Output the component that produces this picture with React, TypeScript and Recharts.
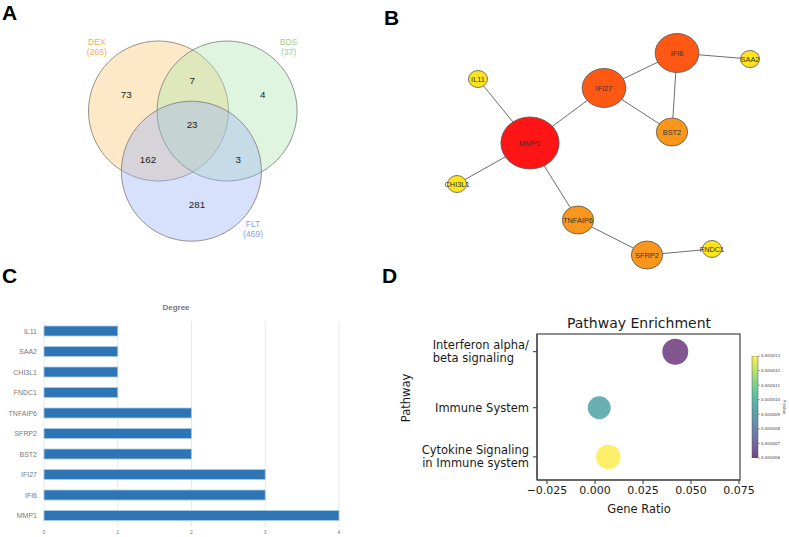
import React from "react";
import {
  ScatterChart,
  Scatter,
  BarChart,
  Bar,
  XAxis,
  YAxis,
  ZAxis,
  CartesianGrid,
} from "recharts";

// ---- Panel A: Venn (units = circle radius) ----
const vennSets = ["DEX", "BDS", "FLT"];
const vennSetSizes = [265, 37, 469];
const vennCenterX = [0, 0.98, 0.47];
const vennCenterY = [0, 0, -0.86];
const vennLabelX = [-0.88, 1.86, 1.35];
const vennLabelY = [0.99, 0.99, -1.61];
const vennCounts = [73, 7, 4, 23, 162, 3, 281];
const vennCountX = [-0.46, 0.48, 1.49, 0.48, -0.15, 1.14, 0.55];
const vennCountY = [0.23, 0.44, 0.23, -0.2, -0.69, -0.69, -1.34];

// ---- Panel B: PPI network ----
const nodeNames = ["IFI6", "SAA2", "IL11", "IFI27", "BST2", "MMP1", "CHI3L1", "TNFAIP6", "SFRP2", "FNDC1"];
const nodeX = [287, 360, 88, 214, 282, 140, 67, 188, 257, 322];
const nodeY = [53, 59, 79, 88, 132, 143, 184, 220, 255, 249];
const edgesFrom = ["IFI6", "IFI6", "IFI6", "IFI27", "IFI27", "MMP1", "MMP1", "MMP1", "TNFAIP6", "SFRP2"];
const edgesTo = ["SAA2", "IFI27", "BST2", "BST2", "MMP1", "IL11", "CHI3L1", "TNFAIP6", "SFRP2", "FNDC1"];

// ---- Panel C: degree ----
const degreeGenes = ["IL11", "SAA2", "CHI3L1", "FNDC1", "TNFAIP6", "SFRP2", "BST2", "IFI27", "IFI6", "MMP1"];
const degreeValues = [1, 1, 1, 1, 2, 2, 2, 3, 3, 4];
const degreeTicks = [0, 1, 2, 3, 4];

// ---- Panel D: pathway enrichment ----
const pathways = ["Cytokine Signaling\nin Immune system", "Immune System", "Interferon alpha/\nbeta signaling"];
const pathwayPos = [0, 1, 2.14];
const geneRatio = [0.0069, 0.0022, 0.0418];
const pValues = [0.000013, 0.0000093, 0.0000061];
const geneCounts = [8, 7, 9];
const ratioTicks = [-0.025, 0, 0.025, 0.05, 0.075];
const pTicks = [0.000006, 0.000007, 0.000008, 0.000009, 0.00001, 0.000011, 0.000012, 0.000013];

const vennColors = ["#f9c772", "#b2e6ae", "#9db4f5"];
const vennTextColors = ["#f4ad57", "#96d495", "#8ca3e6"];
const degreeFill: Record<number, string> = { 1: "#ffe31b", 2: "#fb961c", 3: "#ff5714", 4: "#ff1515" };
const degreeRy: Record<number, number> = { 1: 8.5, 2: 14, 3: 19.5, 4: 26 };
const viridisStops = ["#440154", "#482878", "#3e4989", "#31688e", "#26828e", "#1f9e89", "#35b779", "#6ece58", "#b5de2b", "#fde725"];

const hex = (h: string) => [1, 3, 5].map((i) => parseInt(h.slice(i, i + 2), 16));
const viridis = (t: number) => {
  const s = Math.max(0, Math.min(1, t)) * (viridisStops.length - 1);
  const i = Math.min(Math.floor(s), viridisStops.length - 2);
  const f = s - i;
  const a = hex(viridisStops[i]);
  const b = hex(viridisStops[i + 1]);
  return `rgb(${a.map((v, k) => Math.round(v + (b[k] - v) * f)).join(",")})`;
};

const measure = (() => {
  let ctx: CanvasRenderingContext2D | null = null;
  return (t: string, font: string) => {
    if (!ctx) ctx = document.createElement("canvas").getContext("2d");
    if (!ctx) return t.length * 6;
    ctx.font = font;
    return ctx.measureText(t).width;
  };
})();

const ARIAL = "'Liberation Sans', Arial, sans-serif";
const DEJAVU = "'DejaVu Sans', sans-serif";
const FRAME = "#444";

const vennCircles = vennSets.map((name, i) => ({ name, x: vennCenterX[i], y: vennCenterY[i], r: 1, i }));
const vennSetLabels = vennSets.map((name, i) => ({ name, size: vennSetSizes[i], x: vennLabelX[i], y: vennLabelY[i], i }));
const vennRegionLabels = vennCounts.map((c, i) => ({ c, x: vennCountX[i], y: vennCountY[i] }));

const nodes = nodeNames.map((name, i) => ({
  name,
  x: nodeX[i],
  y: nodeY[i],
  degree: edgesFrom.filter((e) => e === name).length + edgesTo.filter((e) => e === name).length,
}));
const edges = edgesFrom.map((f, i) => [nodes.find((n) => n.name === f)!, nodes.find((n) => n.name === edgesTo[i])!]);

const degreeData = degreeGenes.map((name, i) => ({ name, degree: degreeValues[i] }));

const pathwayData = pathways.map((name, i) => ({
  name,
  x: geneRatio[i],
  y: pathwayPos[i],
  p: pValues[i],
  count: geneCounts[i],
}));
const colorbarData = [{ name: "p", v: pTicks[pTicks.length - 1] }];

const X_DOMAIN: [number, number] = [-0.0302, 0.0755];
const Y_DOMAIN: [number, number] = [-0.47, 2.5];
// bubble radius for the largest gene count
const MAX_R = 13;

// panel D chart box
const D_LEFT = 400;
const D_TOP = 300;
const D_W = 389;
const D_H = 237;
const D_MARGIN = { top: 34, right: 49, bottom: 27, left: 0 };
const D_YAXIS_W = 137;
const D_XAXIS_H = 30;

function VennPanel() {
  return (
    <ScatterChart width={390} height={262} margin={{ top: 0, right: 0, bottom: 0, left: 0 }}>
      <XAxis type="number" dataKey="x" hide domain={[-2.2643, 3.3071]} allowDataOverflow />
      <YAxis type="number" dataKey="y" hide domain={[-2.1571, 1.5857]} allowDataOverflow />
      <ZAxis type="number" dataKey="r" domain={[0, 1]} range={[0, Math.PI * 70 * 70]} />
      <Scatter
        data={vennCircles}
        isAnimationActive={false}
        shape={(p: any) => (
          <circle
            cx={p.cx}
            cy={p.cy}
            r={p.width / 2}
            fill={vennColors[p.payload.i]}
            fillOpacity={0.4}
            stroke="#7a7a7a"
            strokeOpacity={0.8}
            strokeWidth={1}
          />
        )}
      />
      <Scatter
        data={vennRegionLabels}
        isAnimationActive={false}
        shape={(p: any) => (
          <text x={p.cx} y={p.cy} dy="0.35em" textAnchor="middle" fontSize={9.8} fill="#222" fontFamily={ARIAL}>
            {p.payload.c}
          </text>
        )}
      />
      <Scatter
        data={vennSetLabels}
        isAnimationActive={false}
        shape={(p: any) => (
          <text x={p.cx} y={p.cy} textAnchor="middle" fontSize={8.6} fill={vennTextColors[p.payload.i]} fontFamily={ARIAL}>
            <tspan x={p.cx} dy="0.35em">{p.payload.name}</tspan>
            <tspan x={p.cx} dy="1.2em">({p.payload.size})</tspan>
          </text>
        )}
      />
    </ScatterChart>
  );
}

function NetworkPanel() {
  return (
    <ScatterChart width={399} height={270} margin={{ top: 0, right: 0, bottom: 0, left: 0 }}>
      <XAxis type="number" dataKey="x" hide domain={[0, 399]} allowDataOverflow />
      <YAxis type="number" dataKey="y" hide domain={[0, 270]} reversed allowDataOverflow />
      {edges.map((e, i) => (
        <Scatter
          key={`e${i}`}
          data={e}
          isAnimationActive={false}
          line={{ stroke: "#6e6e6e", strokeWidth: 1 }}
          shape={() => <g />}
        />
      ))}
      <Scatter
        data={nodes}
        isAnimationActive={false}
        shape={(p: any) => {
          const ry = degreeRy[p.payload.degree];
          return (
            <g>
              <ellipse
                cx={p.cx}
                cy={p.cy}
                rx={ry * 1.12}
                ry={ry}
                fill={degreeFill[p.payload.degree]}
                stroke="#555"
                strokeWidth={0.8}
              />
              <text x={p.cx} y={p.cy} dy="0.35em" textAnchor="middle" fontSize={7.4} fill="#333" fontFamily={ARIAL}>
                {p.payload.name}
              </text>
            </g>
          );
        }}
      />
    </ScatterChart>
  );
}

function DegreePanel() {
  return (
    <BarChart
      width={390}
      height={247}
      layout="vertical"
      data={degreeData}
      margin={{ top: 31, right: 51, bottom: 0, left: 0 }}
    >
      <CartesianGrid horizontal={false} stroke="#e8e8e8" />
      <XAxis
        type="number"
        domain={[0, 4]}
        ticks={degreeTicks}
        height={11}
        tickLine={false}
        axisLine={false}
        tickSize={0}
        tickMargin={4}
        tick={{ fontSize: 5, fill: "#777", fontFamily: ARIAL }}
      />
      <YAxis
        type="category"
        dataKey="name"
        width={44}
        tickLine={false}
        axisLine={false}
        tickSize={0}
        tickMargin={7}
        tick={{ fontSize: 7, fill: "#7a7a7a", fontFamily: ARIAL }}
      />
      <Bar dataKey="degree" fill="#2e75b6" stroke="#a9cbea" strokeWidth={0.8} barSize={10} isAnimationActive={false} />
    </BarChart>
  );
}

const PathwayTick = (props: any) => {
  const { x, y, payload } = props;
  const idx = pathwayPos.indexOf(payload.value);
  const lines = (pathways[idx] ?? "").split("\n");
  const font = `11.5px ${DEJAVU}`;
  const widths = lines.map((l) => measure(l, font));
  const maxW = Math.max(...widths);
  const lh = 13;
  const top = y - ((lines.length - 1) * lh) / 2;
  const leftAlign = lines[0].startsWith("Interferon");
  return (
    <text fontSize={11.5} fill="#1a1a1a" fontFamily={DEJAVU}>
      {lines.map((l, i) => (
        <tspan
          key={i}
          x={leftAlign ? x - maxW : x}
          y={top + i * lh}
          dy="0.35em"
          textAnchor={leftAlign ? "start" : "end"}
        >
          {l}
        </tspan>
      ))}
    </text>
  );
};

function PathwayPanel() {
  const maxCount = Math.max(...geneCounts);
  return (
    <ScatterChart width={D_W} height={D_H} margin={D_MARGIN}>
      <XAxis
        type="number"
        dataKey="x"
        domain={X_DOMAIN}
        allowDataOverflow
        ticks={ratioTicks}
        height={D_XAXIS_H}
        axisLine={{ stroke: FRAME, strokeWidth: 1.2 }}
        tickSize={4}
        tickLine={{ stroke: "#333" }}
        tickMargin={2}
        tickFormatter={(v: number) => (v < 0 ? "\u2212" : "") + Math.abs(v).toFixed(3)}
        tick={{ fontSize: 11, fill: "#1a1a1a", fontFamily: DEJAVU }}
      />
      <YAxis
        type="number"
        dataKey="y"
        domain={Y_DOMAIN}
        allowDataOverflow
        ticks={pathwayPos}
        width={D_YAXIS_W}
        axisLine={{ stroke: FRAME, strokeWidth: 1.2 }}
        tickSize={4}
        tickLine={{ stroke: "#333" }}
        tickMargin={4}
        tick={<PathwayTick />}
      />
      <Scatter
        data={pathwayData}
        isAnimationActive={false}
        shape={(p: any) => (
          <circle
            cx={p.cx}
            cy={p.cy}
            r={MAX_R * Math.sqrt(p.payload.count / maxCount)}
            fill={viridis((p.payload.p - 0.000006) / 0.000007)}
            fillOpacity={0.68}
          />
        )}
      />
    </ScatterChart>
  );
}

function ColorbarPanel() {
  return (
    <BarChart width={44} height={114} data={colorbarData} margin={{ top: 6, right: 0, bottom: 6, left: 7 }} barCategoryGap={0}>
      <defs>
        <linearGradient id="viridisGrad" x1="0" y1="1" x2="0" y2="0">
          {viridisStops.map((c, i) => (
            <stop key={i} offset={`${(i / (viridisStops.length - 1)) * 100}%`} stopColor={c} stopOpacity={0.75} />
          ))}
        </linearGradient>
      </defs>
      <XAxis dataKey="name" hide />
      <YAxis
        orientation="right"
        type="number"
        domain={[pTicks[0], pTicks[pTicks.length - 1]]}
        allowDataOverflow
        ticks={pTicks}
        width={31}
        axisLine={false}
        tickSize={2}
        tickMargin={1}
        tickLine={{ stroke: "#444", strokeWidth: 0.5 }}
        tickFormatter={(v: number) => v.toFixed(6)}
        tick={{ fontSize: 4, fill: "#444", fontFamily: DEJAVU }}
      />
      <Bar dataKey="v" fill="url(#viridisGrad)" stroke="#555" strokeWidth={0.5} isAnimationActive={false} />
    </BarChart>
  );
}

export default function App() {
  const plotX = D_LEFT + D_MARGIN.left + D_YAXIS_W;
  const plotY = D_TOP + D_MARGIN.top;
  const plotW = D_W - D_MARGIN.left - D_MARGIN.right - D_YAXIS_W;
  const plotH = D_H - D_MARGIN.top - D_MARGIN.bottom - D_XAXIS_H;
  return (
    <div style={{ position: "absolute", left: 0, top: 0, width: 789, height: 537, background: "#fff", overflow: "hidden" }}>
      <div style={{ position: "absolute", left: 0, top: 0 }}>
        <VennPanel />
      </div>
      <div style={{ position: "absolute", left: 390, top: 0 }}>
        <NetworkPanel />
      </div>
      <div style={{ position: "absolute", left: 0, top: 290 }}>
        <DegreePanel />
      </div>
      <div style={{ position: "absolute", left: D_LEFT, top: D_TOP }}>
        <PathwayPanel />
      </div>
      <div style={{ position: "absolute", left: 745, top: 350 }}>
        <ColorbarPanel />
      </div>
      <svg width={789} height={537} style={{ position: "absolute", left: 0, top: 0, pointerEvents: "none" }}>
        <rect x={plotX} y={plotY} width={plotW} height={plotH} fill="none" stroke={FRAME} strokeWidth={1.2} />
        <g fontFamily={ARIAL} fontWeight="bold" fontSize={21} fill="#000">
          <text x={2} y={20}>A</text>
          <text x={384} y={25}>B</text>
          <text x={2} y={283}>C</text>
          <text x={382} y={283}>D</text>
        </g>
        <text x={176} y={310} textAnchor="middle" fontFamily={ARIAL} fontWeight="bold" fontSize={8} fill="#777">
          Degree
        </text>
        <text x={639} y={328} textAnchor="middle" fontFamily={DEJAVU} fontSize={14} fill="#1a1a1a">
          Pathway Enrichment
        </text>
        <text x={639} y={513} textAnchor="middle" fontFamily={DEJAVU} fontSize={11.5} fill="#1a1a1a">
          Gene Ratio
        </text>
        <text
          x={410}
          y={398}
          textAnchor="middle"
          fontFamily={DEJAVU}
          fontSize={11.5}
          fill="#1a1a1a"
          transform="rotate(-90 410 398)"
        >
          Pathway
        </text>
        <text
          x={784}
          y={407}
          textAnchor="middle"
          dy="0.35em"
          fontFamily={DEJAVU}
          fontSize={4}
          fill="#444"
          transform="rotate(90 784 407)"
        >
          P-Value
        </text>
      </svg>
    </div>
  );
}
